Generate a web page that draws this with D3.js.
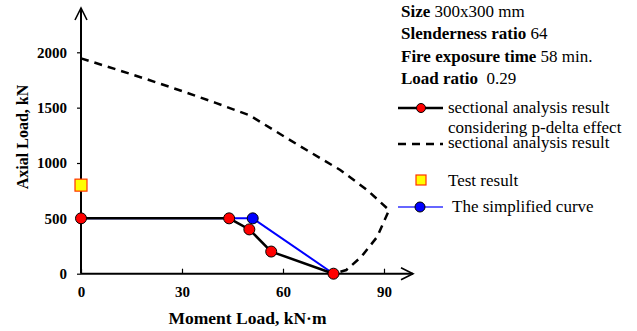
<!DOCTYPE html>
<html>
<head>
<meta charset="utf-8">
<script src="https://cdn.jsdelivr.net/npm/d3@7"></script>
<style>
  html, body { margin: 0; padding: 0; background: #fff; }
  svg { display: block; font-family: "Liberation Serif", "Times New Roman", serif; }
</style>
</head>
<body>
<svg id="chart" width="637" height="331"></svg>
<script>
// Interaction curve data: moment (kN·m) vs axial load (kN)
const pdeltaMoment = [0, 44, 50, 56.5, 75];
const pdeltaAxial  = [500, 500, 400, 200, 0];

const sectionalMoment = [0, 10, 20, 30, 40, 50, 58, 67, 77, 85, 91.5, 88, 83.3, 78.8, 75];
const sectionalAxial  = [1945, 1850, 1752, 1650, 1543, 1432, 1283, 1117, 937, 756, 575, 334, 154, 33, 0];

const simplifiedMoment = [0, 51, 75];
const simplifiedAxial  = [500, 500, 0];

const testMoment = [0];
const testAxial  = [800];

const xTicks = [0, 30, 60, 90];
const yTicks = [0, 500, 1000, 1500, 2000];

const infoLabels = ["Size", "Slenderness ratio", "Fire exposure time", "Load ratio"];
const infoValues = [" 300x300 mm", " 64", " 58 min.", "  0.29"];

const svg = d3.select("#chart");

const x = d3.scaleLinear().domain([0, 90]).range([81, 384]);
const y = d3.scaleLinear().domain([0, 2000]).range([273.7, 52.3]);

const toPts = (mx, ny) => mx.map((m, i) => [m, ny[i]]);
const line = d3.line().x(d => x(d[0])).y(d => y(d[1]));

// Axes
const yAxis = d3.axisLeft(y).tickValues(yTicks).tickSize(4).tickPadding(10).tickFormat(d3.format("d"));
const gy = svg.append("g").attr("transform", `translate(${x(0)},0)`).call(yAxis);
const xAxis = d3.axisBottom(x).tickValues(xTicks).tickSize(-5).tickPadding(13).tickFormat(d3.format("d"));
const gx = svg.append("g").attr("transform", `translate(0,${y(0)})`).call(xAxis);
[gx, gy].forEach(g => {
  g.select(".domain").remove();
  g.selectAll(".tick line").attr("stroke", "#000").attr("stroke-width", 1.2);
  g.selectAll(".tick text").attr("fill", "#000").attr("font-size", 15)
    .attr("font-weight", "bold").attr("font-family", "'Liberation Serif', 'Times New Roman', serif");
});

// Axis lines with open arrow heads
const axisG = svg.append("g").attr("stroke", "#000").attr("stroke-width", 2).attr("fill", "none");
axisG.append("line").attr("x1", x(0)).attr("y1", y(0)).attr("x2", x(0)).attr("y2", 8);
axisG.append("path").attr("d", `M${x(0) - 6},${20} L${x(0)},${8} L${x(0) + 6},${20}`).attr("stroke-width", 1.6);
axisG.append("line").attr("x1", x(0)).attr("y1", y(0)).attr("x2", 413).attr("y2", y(0));
axisG.append("path").attr("d", `M${401},${y(0) - 6} L${413},${y(0)} L${401},${y(0) + 6}`).attr("stroke-width", 1.6);

// Sectional analysis (dashed)
svg.append("path").datum(toPts(sectionalMoment, sectionalAxial))
  .attr("d", line).attr("fill", "none").attr("stroke", "#000")
  .attr("stroke-width", 2.5).attr("stroke-dasharray", "8,6");

// Simplified curve (blue)
svg.append("path").datum(toPts(simplifiedMoment, simplifiedAxial))
  .attr("d", line).attr("fill", "none").attr("stroke", "#0000ff").attr("stroke-width", 2);

// P-delta curve (black with red markers)
const pdPts = toPts(pdeltaMoment, pdeltaAxial);
svg.append("path").datum(pdPts)
  .attr("d", line).attr("fill", "none").attr("stroke", "#000").attr("stroke-width", 2.5);

// Simplified curve break point (blue marker)
svg.selectAll(".simpDot").data(toPts(simplifiedMoment, simplifiedAxial).slice(1, 2)).enter()
  .append("circle").attr("cx", d => x(d[0])).attr("cy", d => y(d[1])).attr("r", 5.5)
  .attr("fill", "#0000ff").attr("stroke", "#000").attr("stroke-width", 1);

svg.selectAll(".pdDot").data(pdPts).enter()
  .append("circle").attr("cx", d => x(d[0])).attr("cy", d => y(d[1])).attr("r", 5.5)
  .attr("fill", "#ff0000").attr("stroke", "#000").attr("stroke-width", 1);

// Test result
svg.selectAll(".test").data(toPts(testMoment, testAxial)).enter()
  .append("rect").attr("x", d => x(d[0]) - 6).attr("y", d => y(d[1]) - 6)
  .attr("width", 12).attr("height", 12)
  .attr("fill", "#ffff00").attr("stroke", "#ff3300").attr("stroke-width", 1.2);

// Axis titles
svg.append("text").attr("x", 247.5).attr("y", 324).attr("text-anchor", "middle")
  .attr("font-size", 17.5).attr("font-weight", "bold").text("Moment Load, kN\u00b7m");
svg.append("text").attr("transform", "translate(28,137) rotate(-90)").attr("text-anchor", "middle")
  .attr("font-size", 16).attr("font-weight", "bold").text("Axial Load, kN");

// Specimen information
infoLabels.forEach((lab, i) => {
  const t = svg.append("text").attr("x", 401).attr("y", 16.5 + i * 22.5).attr("font-size", 17);
  t.append("tspan").attr("font-weight", "bold").text(lab);
  t.append("tspan").style("white-space", "pre").text(infoValues[i]);
});

// Legend
const lg = svg.append("g").attr("font-size", 17);
lg.append("line").attr("x1", 398).attr("x2", 443).attr("y1", 108).attr("y2", 108)
  .attr("stroke", "#000").attr("stroke-width", 2.5);
lg.append("circle").attr("cx", 421).attr("cy", 108).attr("r", 4.5)
  .attr("fill", "#ff0000").attr("stroke", "#000").attr("stroke-width", 1);
lg.append("text").attr("x", 448).attr("y", 112.5).text("sectional analysis result");
lg.append("text").attr("x", 448).attr("y", 133).text("considering p-delta effect");
lg.append("line").attr("x1", 398).attr("x2", 443).attr("y1", 144).attr("y2", 144)
  .attr("stroke", "#000").attr("stroke-width", 2.5).attr("stroke-dasharray", "8,6");
lg.append("text").attr("x", 448).attr("y", 148).text("sectional analysis result");

lg.append("rect").attr("x", 416).attr("y", 175).attr("width", 10).attr("height", 10)
  .attr("fill", "#ffff00").attr("stroke", "#ff3300").attr("stroke-width", 1.2);
lg.append("text").attr("x", 448).attr("y", 185.5).text("Test result");
lg.append("line").attr("x1", 398).attr("x2", 443).attr("y1", 207).attr("y2", 207)
  .attr("stroke", "#3333ff").attr("stroke-width", 1.5);
lg.append("circle").attr("cx", 420).attr("cy", 207).attr("r", 5)
  .attr("fill", "#0000ff").attr("stroke", "#000").attr("stroke-width", 1);
lg.append("text").attr("x", 452).attr("y", 212).text("The simplified curve");
</script>
</body>
</html>
